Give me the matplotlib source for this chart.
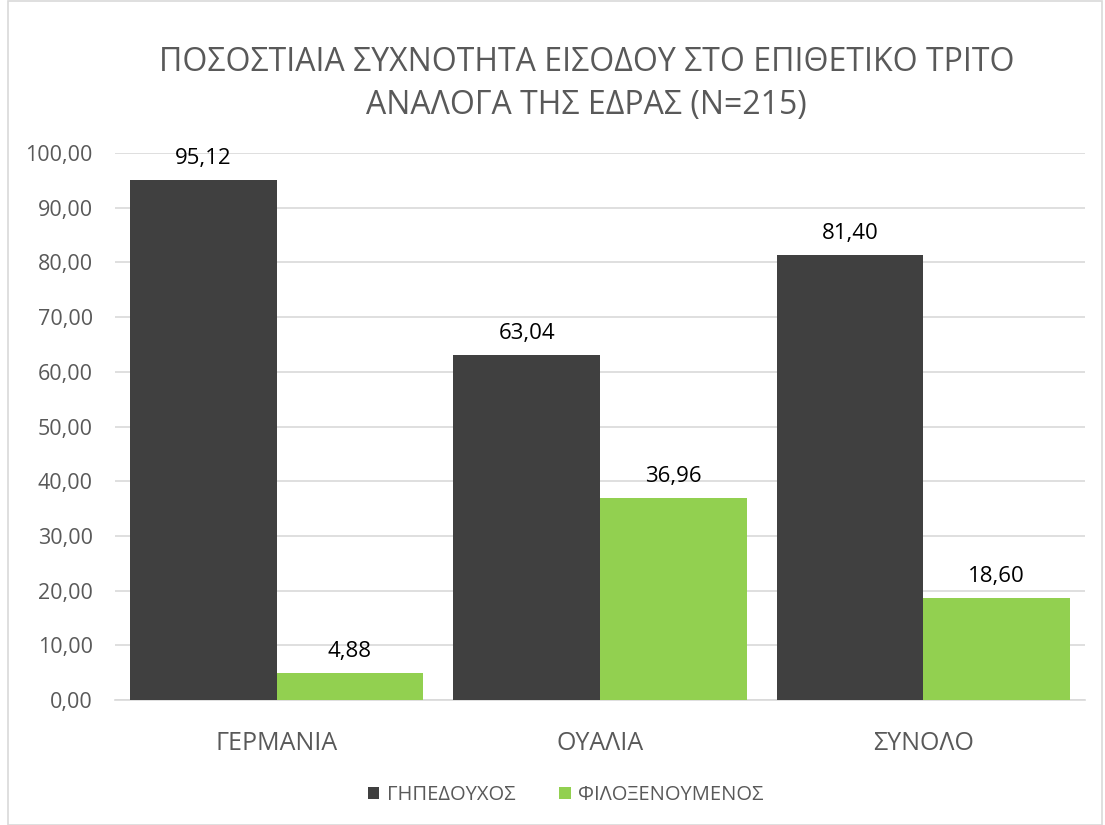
import numpy as np
import matplotlib
matplotlib.use('Agg')
import matplotlib.pyplot as plt
from matplotlib.patches import Rectangle

# data
categories = ['ΓΕΡΜΑΝΙΑ', 'ΟΥΑΛΙΑ', 'ΣΥΝΟΛΟ']
home = [95.12, 63.04, 81.40]
away = [4.88, 36.96, 18.60]
series_names = ['ΓΗΠΕΔΟΥΧΟΣ', 'ΦΙΛΟΞΕΝΟΥΜΕΝΟΣ']
title = 'ΠΟΣΟΣΤΙΑΙΑ ΣΥΧΝΟΤΗΤΑ ΕΙΣΟΔΟΥ ΣΤΟ ΕΠΙΘΕΤΙΚΟ ΤΡΙΤΟ\nΑΝΑΛΟΓΑ ΤΗΣ ΕΔΡΑΣ (Ν=215)'

plt.rcParams['font.family'] = ['Open Sans', 'DejaVu Sans']

dark = '#404040'
green = '#92D050'
txt = '#595959'
grid = '#D9D9D9'

fig = plt.figure(figsize=(11.05, 8.25), dpi=100)
ax = fig.add_axes([0.104, 0.1515, 0.878, 0.663])

x = np.arange(len(categories))
w = 0.4535
b1 = ax.bar(x - w/2, home, w, color=dark, label=series_names[0], zorder=3)
b2 = ax.bar(x + w/2, away, w, color=green, label=series_names[1], zorder=3)

for bars in (b1, b2):
    for r in bars:
        h = r.get_height()
        ax.annotate(('%.2f' % h).replace('.', ','), (r.get_x() + r.get_width()/2, h),
                    xytext=(0, 8), textcoords='offset points', ha='center', va='bottom',
                    fontsize=16, color='black')

ax.set_xlim(-0.5, 2.5)
ax.set_ylim(0, 100)
yt = np.arange(0, 101, 10)
ax.set_yticks(yt)
ax.set_yticklabels([('%.2f' % v).replace('.', ',') for v in yt], fontsize=15.5, color=txt)
ax.set_xticks(x)
ax.set_xticklabels(categories, fontsize=18, color=txt)
ax.tick_params(axis='both', length=0)
ax.tick_params(axis='y', pad=16)
ax.tick_params(axis='x', pad=22)
ax.yaxis.grid(True, color=grid, linewidth=1.2, zorder=0)
for s in ['top', 'right', 'left']:
    ax.spines[s].set_visible(False)
ax.spines['bottom'].set_color(grid)
ax.spines['bottom'].set_linewidth(1.2)

fig.text(0.531, 0.898, title, ha='center', va='center', fontsize=23, color=txt, linespacing=1.4)

leg = fig.legend(handles=[b1, b2], loc='center', bbox_to_anchor=(0.512, 0.036), ncol=2,
                 frameon=False, fontsize=14.5, handlelength=0.55, handleheight=0.55,
                 handletextpad=0.35, columnspacing=2.2)
for t in leg.get_texts():
    t.set_color(txt)

fig.patches.append(Rectangle((0.007, 0.0), 0.99, 0.999, transform=fig.transFigure,
                             fill=False, edgecolor=grid, linewidth=1.2))

fig.savefig('out.png', dpi=100)
